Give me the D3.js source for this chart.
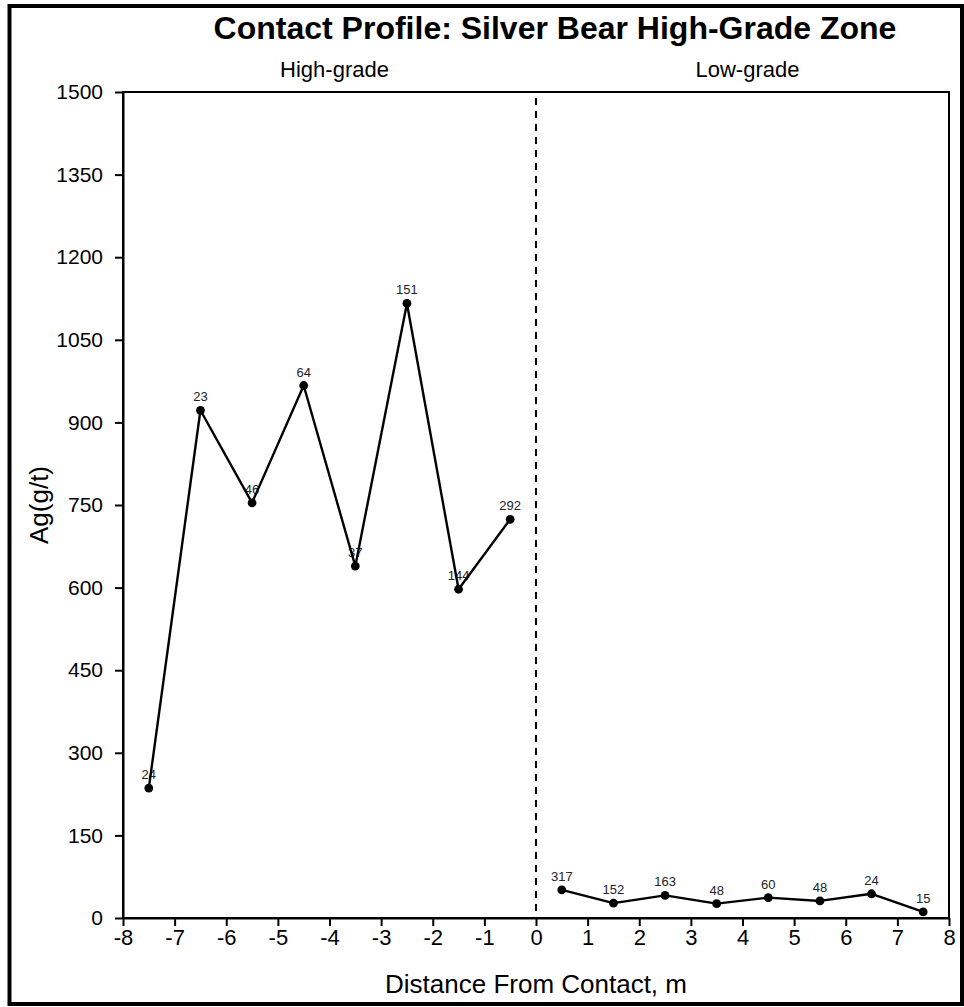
<!DOCTYPE html>
<html>
<head>
<meta charset="utf-8">
<script src="https://cdn.jsdelivr.net/npm/d3@7"></script>
<style>
  body { margin: 0; background: #fff; }
  svg { display: block; }
  text { font-family: "Liberation Sans", Arial, Helvetica, sans-serif; }
</style>
</head>
<body>
<svg id="chart" width="964" height="1007"></svg>
<script>
// Sample positions (m from contact) and Ag grades, one series per side of the contact
const highDist = [-7.5, -6.5, -5.5, -4.5, -3.5, -2.5, -1.5, -0.5];
const highAg = [236, 922, 754, 967, 639, 1116, 597, 724];
const highLabels = ["24", "23", "46", "64", "37", "151", "144", "292"];

const lowDist = [0.5, 1.5, 2.5, 3.5, 4.5, 5.5, 6.5, 7.5];
const lowAg = [51, 27, 41, 26, 37, 31, 44, 11];
const lowLabels = ["317", "152", "163", "48", "60", "48", "24", "15"];

const xTicks = [-8, -7, -6, -5, -4, -3, -2, -1, 0, 1, 2, 3, 4, 5, 6, 7, 8];
const yTicks = [0, 150, 300, 450, 600, 750, 900, 1050, 1200, 1350, 1500];

const zoneNames = ["High-grade", "Low-grade"];
const zoneCenters = [-4, 4];

const svg = d3.select("#chart");
const W = 964, H = 1007;
const plot = { left: 123, right: 949, top: 92, bottom: 918 };
const FONT = '"Liberation Sans", Arial, Helvetica, sans-serif';

svg.append("rect").attr("width", W).attr("height", H).attr("fill", "#fff");

// outer frame
svg.append("rect")
  .attr("x", 9.5).attr("y", 6)
  .attr("width", 952.5).attr("height", 998)
  .attr("fill", "none").attr("stroke", "#000").attr("stroke-width", 4);

const x = d3.scaleLinear().domain([-8, 8]).range([plot.left, plot.right]);
const y = d3.scaleLinear().domain([0, 1500]).range([plot.bottom, plot.top]);

// plot box
svg.append("rect")
  .attr("x", plot.left).attr("y", plot.top)
  .attr("width", plot.right - plot.left).attr("height", plot.bottom - plot.top)
  .attr("fill", "none").attr("stroke", "#000").attr("stroke-width", 2);

// axes (plain hyphen-minus, no thousands separator)
const plain = d => String(d);

const yAxis = svg.append("g")
  .attr("transform", `translate(${plot.left},0)`)
  .call(d3.axisLeft(y).tickValues(yTicks).tickFormat(plain)
    .tickSize(8).tickSizeOuter(0).tickPadding(12));
yAxis.selectAll("text").attr("font-size", 21).attr("fill", "#000").style("font-family", FONT);

const xAxis = svg.append("g")
  .attr("transform", `translate(0,${plot.bottom})`)
  .call(d3.axisBottom(x).tickValues(xTicks).tickFormat(plain)
    .tickSize(8).tickSizeOuter(0).tickPadding(3));
xAxis.selectAll("text").attr("font-size", 22).attr("fill", "#000").style("font-family", FONT);

[yAxis, xAxis].forEach(g => {
  g.select(".domain").attr("stroke", "#000").attr("stroke-width", 2);
  g.selectAll(".tick line").attr("stroke", "#000").attr("stroke-width", 2);
});

// contact line
svg.append("line")
  .attr("x1", x(0)).attr("x2", x(0))
  .attr("y1", y(1500) + 6).attr("y2", y(0))
  .attr("stroke", "#000").attr("stroke-width", 2)
  .attr("stroke-dasharray", "7,6");

// title and zone headings
svg.append("text")
  .attr("x", 555).attr("y", 39)
  .attr("text-anchor", "middle")
  .attr("font-size", 32).attr("font-weight", "bold")
  .text("Contact Profile: Silver Bear High-Grade Zone");

svg.selectAll(".zone")
  .data(zoneNames)
  .enter().append("text")
  .attr("class", "zone")
  .attr("x", (d, i) => x(zoneCenters[i]) + 5)
  .attr("y", 77)
  .attr("text-anchor", "middle")
  .attr("font-size", 22)
  .text(d => d);

// axis titles
svg.append("text")
  .attr("x", (plot.left + plot.right) / 2).attr("y", 993)
  .attr("text-anchor", "middle").attr("font-size", 26)
  .text("Distance From Contact, m");

svg.append("text")
  .attr("transform", `translate(48,${(plot.top + plot.bottom) / 2}) rotate(-90)`)
  .attr("text-anchor", "middle").attr("font-size", 26)
  .text("Ag(g/t)");

// series
const series = [
  { dist: highDist, ag: highAg, labels: highLabels },
  { dist: lowDist, ag: lowAg, labels: lowLabels }
];

const line = d3.line().x(d => x(d.d)).y(d => y(d.v));

series.forEach(s => {
  const pts = s.dist.map((d, i) => ({ d, v: s.ag[i], label: s.labels[i] }));

  svg.append("g").selectAll("text")
    .data(pts).enter().append("text")
    .attr("x", p => x(p.d))
    .attr("y", p => y(p.v) - 9)
    .attr("text-anchor", "middle")
    .attr("font-size", 13)
    .attr("fill", "#222")
    .text(p => p.label);

  svg.append("path")
    .datum(pts)
    .attr("d", line)
    .attr("fill", "none").attr("stroke", "#000").attr("stroke-width", 2.4)
    .attr("stroke-linejoin", "round");

  svg.append("g").selectAll("circle")
    .data(pts).enter().append("circle")
    .attr("cx", p => x(p.d))
    .attr("cy", p => y(p.v))
    .attr("r", 4.4)
    .attr("fill", "#000");
});
</script>
</body>
</html>
